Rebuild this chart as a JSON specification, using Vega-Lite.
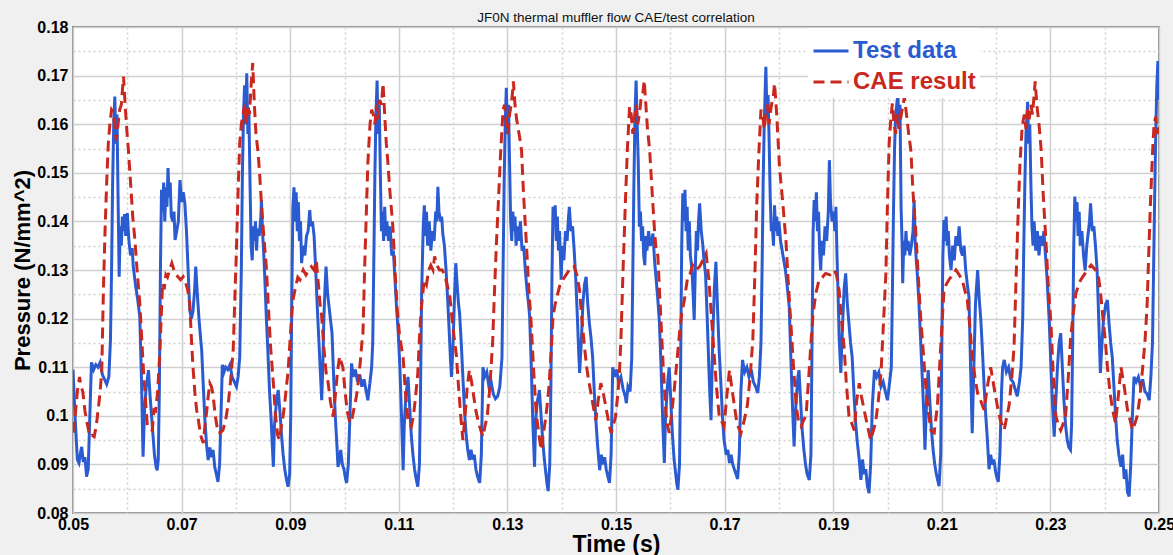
{
"$schema": "https://vega.github.io/schema/vega-lite/v6.json",
"width": 1086,
"height": 486,
"autosize": "none",
"padding": {"left": 73, "top": 27, "right": 14, "bottom": 42},
"background": "#f0f0f0",
"config": {"view": {"fill": "white", "stroke": "#8c8c8c", "strokeWidth": 2}, "font": "Liberation Sans"},
"title": {"text": "JF0N thermal muffler flow CAE/test correlation", "fontSize": 13.5, "fontWeight": "normal", "color": "#111", "offset": -5, "font": "Liberation Sans"},
"data": {"values": [
{"t":0.0500,"p":0.1095,"s":"Test data"},{"t":0.0504,"p":0.0995,"s":"Test data"},{"t":0.0508,"p":0.0910,"s":"Test data"},{"t":0.0511,"p":0.0903,"s":"Test data"},{"t":0.0514,"p":0.0925,"s":"Test data"},{"t":0.0516,"p":0.0936,"s":"Test data"},{"t":0.0519,"p":0.0905,"s":"Test data"},{"t":0.0522,"p":0.0915,"s":"Test data"},{"t":0.0525,"p":0.0875,"s":"Test data"},{"t":0.0528,"p":0.0890,"s":"Test data"},{"t":0.0531,"p":0.1000,"s":"Test data"},{"t":0.0534,"p":0.1110,"s":"Test data"},{"t":0.0538,"p":0.1095,"s":"Test data"},{"t":0.0542,"p":0.1105,"s":"Test data"},{"t":0.0546,"p":0.1100,"s":"Test data"},{"t":0.0550,"p":0.1110,"s":"Test data"},{"t":0.0554,"p":0.1085,"s":"Test data"},{"t":0.0558,"p":0.1075,"s":"Test data"},{"t":0.0562,"p":0.1065,"s":"Test data"},{"t":0.0566,"p":0.1080,"s":"Test data"},{"t":0.0569,"p":0.1156,"s":"Test data"},{"t":0.0571,"p":0.1300,"s":"Test data"},{"t":0.0573,"p":0.1480,"s":"Test data"},{"t":0.0575,"p":0.1600,"s":"Test data"},{"t":0.0577,"p":0.1657,"s":"Test data"},{"t":0.0579,"p":0.1560,"s":"Test data"},{"t":0.0581,"p":0.1620,"s":"Test data"},{"t":0.0583,"p":0.1450,"s":"Test data"},{"t":0.0585,"p":0.1286,"s":"Test data"},{"t":0.0587,"p":0.1390,"s":"Test data"},{"t":0.0589,"p":0.1350,"s":"Test data"},{"t":0.0591,"p":0.1410,"s":"Test data"},{"t":0.0593,"p":0.1380,"s":"Test data"},{"t":0.0595,"p":0.1415,"s":"Test data"},{"t":0.0597,"p":0.1370,"s":"Test data"},{"t":0.0600,"p":0.1417,"s":"Test data"},{"t":0.0603,"p":0.1360,"s":"Test data"},{"t":0.0606,"p":0.1330,"s":"Test data"},{"t":0.0609,"p":0.1345,"s":"Test data"},{"t":0.0611,"p":0.1307,"s":"Test data"},{"t":0.0615,"p":0.1270,"s":"Test data"},{"t":0.0619,"p":0.1240,"s":"Test data"},{"t":0.0623,"p":0.1204,"s":"Test data"},{"t":0.0626,"p":0.1080,"s":"Test data"},{"t":0.0629,"p":0.0916,"s":"Test data"},{"t":0.0632,"p":0.1020,"s":"Test data"},{"t":0.0635,"p":0.1060,"s":"Test data"},{"t":0.0639,"p":0.1094,"s":"Test data"},{"t":0.0642,"p":0.1040,"s":"Test data"},{"t":0.0646,"p":0.0980,"s":"Test data"},{"t":0.0650,"p":0.0920,"s":"Test data"},{"t":0.0653,"p":0.0895,"s":"Test data"},{"t":0.0655,"p":0.0888,"s":"Test data"},{"t":0.0657,"p":0.0910,"s":"Test data"},{"t":0.0659,"p":0.1050,"s":"Test data"},{"t":0.0661,"p":0.1300,"s":"Test data"},{"t":0.0663,"p":0.1465,"s":"Test data"},{"t":0.0665,"p":0.1420,"s":"Test data"},{"t":0.0667,"p":0.1480,"s":"Test data"},{"t":0.0669,"p":0.1400,"s":"Test data"},{"t":0.0671,"p":0.1470,"s":"Test data"},{"t":0.0673,"p":0.1430,"s":"Test data"},{"t":0.0675,"p":0.1510,"s":"Test data"},{"t":0.0677,"p":0.1450,"s":"Test data"},{"t":0.0679,"p":0.1480,"s":"Test data"},{"t":0.0681,"p":0.1410,"s":"Test data"},{"t":0.0684,"p":0.1400,"s":"Test data"},{"t":0.0686,"p":0.1420,"s":"Test data"},{"t":0.0688,"p":0.1362,"s":"Test data"},{"t":0.0691,"p":0.1380,"s":"Test data"},{"t":0.0694,"p":0.1400,"s":"Test data"},{"t":0.0697,"p":0.1485,"s":"Test data"},{"t":0.0700,"p":0.1440,"s":"Test data"},{"t":0.0703,"p":0.1460,"s":"Test data"},{"t":0.0706,"p":0.1437,"s":"Test data"},{"t":0.0709,"p":0.1380,"s":"Test data"},{"t":0.0712,"p":0.1300,"s":"Test data"},{"t":0.0715,"p":0.1218,"s":"Test data"},{"t":0.0718,"p":0.1200,"s":"Test data"},{"t":0.0721,"p":0.1215,"s":"Test data"},{"t":0.0724,"p":0.1260,"s":"Test data"},{"t":0.0726,"p":0.1307,"s":"Test data"},{"t":0.0729,"p":0.1250,"s":"Test data"},{"t":0.0732,"p":0.1200,"s":"Test data"},{"t":0.0735,"p":0.1160,"s":"Test data"},{"t":0.0737,"p":0.1135,"s":"Test data"},{"t":0.0740,"p":0.1060,"s":"Test data"},{"t":0.0743,"p":0.0990,"s":"Test data"},{"t":0.0746,"p":0.0940,"s":"Test data"},{"t":0.0749,"p":0.0909,"s":"Test data"},{"t":0.0752,"p":0.0935,"s":"Test data"},{"t":0.0755,"p":0.0915,"s":"Test data"},{"t":0.0758,"p":0.0930,"s":"Test data"},{"t":0.0761,"p":0.0895,"s":"Test data"},{"t":0.0764,"p":0.0880,"s":"Test data"},{"t":0.0767,"p":0.0864,"s":"Test data"},{"t":0.0770,"p":0.0900,"s":"Test data"},{"t":0.0773,"p":0.1020,"s":"Test data"},{"t":0.0775,"p":0.1105,"s":"Test data"},{"t":0.0778,"p":0.1090,"s":"Test data"},{"t":0.0781,"p":0.1100,"s":"Test data"},{"t":0.0785,"p":0.1095,"s":"Test data"},{"t":0.0789,"p":0.1105,"s":"Test data"},{"t":0.0793,"p":0.1080,"s":"Test data"},{"t":0.0797,"p":0.1070,"s":"Test data"},{"t":0.0801,"p":0.1060,"s":"Test data"},{"t":0.0804,"p":0.1080,"s":"Test data"},{"t":0.0807,"p":0.1120,"s":"Test data"},
{"t":0.0810,"p":0.1300,"s":"Test data"},{"t":0.0812,"p":0.1500,"s":"Test data"},{"t":0.0814,"p":0.1620,"s":"Test data"},{"t":0.0816,"p":0.1680,"s":"Test data"},{"t":0.0818,"p":0.1600,"s":"Test data"},{"t":0.0820,"p":0.1705,"s":"Test data"},{"t":0.0822,"p":0.1580,"s":"Test data"},{"t":0.0824,"p":0.1620,"s":"Test data"},{"t":0.0826,"p":0.1480,"s":"Test data"},{"t":0.0828,"p":0.1350,"s":"Test data"},{"t":0.0830,"p":0.1320,"s":"Test data"},{"t":0.0832,"p":0.1390,"s":"Test data"},{"t":0.0834,"p":0.1360,"s":"Test data"},{"t":0.0836,"p":0.1400,"s":"Test data"},{"t":0.0838,"p":0.1340,"s":"Test data"},{"t":0.0840,"p":0.1385,"s":"Test data"},{"t":0.0843,"p":0.1370,"s":"Test data"},{"t":0.0846,"p":0.1410,"s":"Test data"},{"t":0.0847,"p":0.1444,"s":"Test data"},{"t":0.0849,"p":0.1380,"s":"Test data"},{"t":0.0851,"p":0.1340,"s":"Test data"},{"t":0.0853,"p":0.1290,"s":"Test data"},{"t":0.0856,"p":0.1204,"s":"Test data"},{"t":0.0859,"p":0.1130,"s":"Test data"},{"t":0.0862,"p":0.1050,"s":"Test data"},{"t":0.0865,"p":0.0990,"s":"Test data"},{"t":0.0867,"p":0.0940,"s":"Test data"},{"t":0.0869,"p":0.0895,"s":"Test data"},{"t":0.0871,"p":0.0980,"s":"Test data"},{"t":0.0874,"p":0.1020,"s":"Test data"},{"t":0.0876,"p":0.1040,"s":"Test data"},{"t":0.0878,"p":0.1053,"s":"Test data"},{"t":0.0881,"p":0.1010,"s":"Test data"},{"t":0.0884,"p":0.0960,"s":"Test data"},{"t":0.0887,"p":0.0920,"s":"Test data"},{"t":0.0890,"p":0.0890,"s":"Test data"},{"t":0.0893,"p":0.0870,"s":"Test data"},{"t":0.0896,"p":0.0854,"s":"Test data"},{"t":0.0899,"p":0.0880,"s":"Test data"},{"t":0.0901,"p":0.1000,"s":"Test data"},{"t":0.0903,"p":0.1250,"s":"Test data"},{"t":0.0905,"p":0.1430,"s":"Test data"},{"t":0.0907,"p":0.1470,"s":"Test data"},{"t":0.0909,"p":0.1400,"s":"Test data"},{"t":0.0911,"p":0.1460,"s":"Test data"},{"t":0.0913,"p":0.1380,"s":"Test data"},{"t":0.0915,"p":0.1440,"s":"Test data"},{"t":0.0917,"p":0.1360,"s":"Test data"},{"t":0.0919,"p":0.1400,"s":"Test data"},{"t":0.0921,"p":0.1314,"s":"Test data"},{"t":0.0924,"p":0.1350,"s":"Test data"},{"t":0.0927,"p":0.1330,"s":"Test data"},{"t":0.0930,"p":0.1370,"s":"Test data"},{"t":0.0933,"p":0.1380,"s":"Test data"},{"t":0.0936,"p":0.1423,"s":"Test data"},{"t":0.0938,"p":0.1390,"s":"Test data"},{"t":0.0941,"p":0.1400,"s":"Test data"},{"t":0.0944,"p":0.1370,"s":"Test data"},{"t":0.0947,"p":0.1300,"s":"Test data"},{"t":0.0950,"p":0.1220,"s":"Test data"},{"t":0.0953,"p":0.1150,"s":"Test data"},{"t":0.0956,"p":0.1080,"s":"Test data"},{"t":0.0958,"p":0.1032,"s":"Test data"},{"t":0.0960,"p":0.1100,"s":"Test data"},{"t":0.0962,"p":0.1200,"s":"Test data"},{"t":0.0964,"p":0.1260,"s":"Test data"},{"t":0.0966,"p":0.1307,"s":"Test data"},{"t":0.0969,"p":0.1250,"s":"Test data"},{"t":0.0972,"p":0.1220,"s":"Test data"},{"t":0.0975,"p":0.1190,"s":"Test data"},{"t":0.0977,"p":0.1170,"s":"Test data"},{"t":0.0980,"p":0.1080,"s":"Test data"},{"t":0.0983,"p":0.1000,"s":"Test data"},{"t":0.0986,"p":0.0940,"s":"Test data"},{"t":0.0988,"p":0.0895,"s":"Test data"},{"t":0.0991,"p":0.0910,"s":"Test data"},{"t":0.0993,"p":0.0930,"s":"Test data"},{"t":0.0996,"p":0.0900,"s":"Test data"},{"t":0.0999,"p":0.0890,"s":"Test data"},{"t":0.1002,"p":0.0870,"s":"Test data"},{"t":0.1004,"p":0.0862,"s":"Test data"},{"t":0.1007,"p":0.0900,"s":"Test data"},{"t":0.1010,"p":0.1000,"s":"Test data"},{"t":0.1013,"p":0.1108,"s":"Test data"},{"t":0.1016,"p":0.1080,"s":"Test data"},{"t":0.1020,"p":0.1095,"s":"Test data"},{"t":0.1024,"p":0.1070,"s":"Test data"},{"t":0.1028,"p":0.1085,"s":"Test data"},{"t":0.1032,"p":0.1060,"s":"Test data"},{"t":0.1036,"p":0.1075,"s":"Test data"},{"t":0.1040,"p":0.1050,"s":"Test data"},{"t":0.1043,"p":0.1032,"s":"Test data"},{"t":0.1047,"p":0.1070,"s":"Test data"},{"t":0.1050,"p":0.1100,"s":"Test data"},
{"t":0.1052,"p":0.1150,"s":"Test data"},{"t":0.1054,"p":0.1320,"s":"Test data"},{"t":0.1056,"p":0.1500,"s":"Test data"},{"t":0.1058,"p":0.1620,"s":"Test data"},{"t":0.1060,"p":0.1690,"s":"Test data"},{"t":0.1062,"p":0.1580,"s":"Test data"},{"t":0.1064,"p":0.1640,"s":"Test data"},{"t":0.1066,"p":0.1500,"s":"Test data"},{"t":0.1068,"p":0.1380,"s":"Test data"},{"t":0.1070,"p":0.1420,"s":"Test data"},{"t":0.1072,"p":0.1360,"s":"Test data"},{"t":0.1074,"p":0.1430,"s":"Test data"},{"t":0.1076,"p":0.1370,"s":"Test data"},{"t":0.1078,"p":0.1400,"s":"Test data"},{"t":0.1081,"p":0.1360,"s":"Test data"},{"t":0.1084,"p":0.1390,"s":"Test data"},{"t":0.1087,"p":0.1330,"s":"Test data"},{"t":0.1090,"p":0.1340,"s":"Test data"},{"t":0.1093,"p":0.1280,"s":"Test data"},{"t":0.1096,"p":0.1220,"s":"Test data"},{"t":0.1099,"p":0.1170,"s":"Test data"},{"t":0.1102,"p":0.1100,"s":"Test data"},{"t":0.1105,"p":0.1000,"s":"Test data"},{"t":0.1108,"p":0.0888,"s":"Test data"},{"t":0.1110,"p":0.0980,"s":"Test data"},{"t":0.1113,"p":0.1040,"s":"Test data"},{"t":0.1115,"p":0.1060,"s":"Test data"},{"t":0.1117,"p":0.1080,"s":"Test data"},{"t":0.1120,"p":0.1020,"s":"Test data"},{"t":0.1123,"p":0.0960,"s":"Test data"},{"t":0.1126,"p":0.0920,"s":"Test data"},{"t":0.1129,"p":0.0890,"s":"Test data"},{"t":0.1132,"p":0.0870,"s":"Test data"},{"t":0.1135,"p":0.0854,"s":"Test data"},{"t":0.1138,"p":0.0900,"s":"Test data"},{"t":0.1140,"p":0.1050,"s":"Test data"},{"t":0.1142,"p":0.1250,"s":"Test data"},{"t":0.1145,"p":0.1390,"s":"Test data"},{"t":0.1147,"p":0.1433,"s":"Test data"},{"t":0.1149,"p":0.1370,"s":"Test data"},{"t":0.1151,"p":0.1420,"s":"Test data"},{"t":0.1153,"p":0.1350,"s":"Test data"},{"t":0.1156,"p":0.1400,"s":"Test data"},{"t":0.1159,"p":0.1340,"s":"Test data"},{"t":0.1162,"p":0.1380,"s":"Test data"},{"t":0.1165,"p":0.1360,"s":"Test data"},{"t":0.1168,"p":0.1420,"s":"Test data"},{"t":0.1170,"p":0.1400,"s":"Test data"},{"t":0.1172,"p":0.1471,"s":"Test data"},{"t":0.1174,"p":0.1420,"s":"Test data"},{"t":0.1177,"p":0.1400,"s":"Test data"},{"t":0.1179,"p":0.1410,"s":"Test data"},{"t":0.1181,"p":0.1375,"s":"Test data"},{"t":0.1184,"p":0.1350,"s":"Test data"},{"t":0.1187,"p":0.1300,"s":"Test data"},{"t":0.1190,"p":0.1240,"s":"Test data"},{"t":0.1193,"p":0.1170,"s":"Test data"},{"t":0.1195,"p":0.1120,"s":"Test data"},{"t":0.1197,"p":0.1080,"s":"Test data"},{"t":0.1200,"p":0.1150,"s":"Test data"},{"t":0.1203,"p":0.1260,"s":"Test data"},{"t":0.1205,"p":0.1314,"s":"Test data"},{"t":0.1208,"p":0.1260,"s":"Test data"},{"t":0.1210,"p":0.1230,"s":"Test data"},{"t":0.1212,"p":0.1210,"s":"Test data"},{"t":0.1215,"p":0.1150,"s":"Test data"},{"t":0.1218,"p":0.1080,"s":"Test data"},{"t":0.1221,"p":0.1010,"s":"Test data"},{"t":0.1224,"p":0.0960,"s":"Test data"},{"t":0.1227,"p":0.0930,"s":"Test data"},{"t":0.1230,"p":0.0909,"s":"Test data"},{"t":0.1233,"p":0.0930,"s":"Test data"},{"t":0.1236,"p":0.0910,"s":"Test data"},{"t":0.1239,"p":0.0920,"s":"Test data"},{"t":0.1242,"p":0.0890,"s":"Test data"},{"t":0.1245,"p":0.0875,"s":"Test data"},{"t":0.1249,"p":0.0862,"s":"Test data"},{"t":0.1252,"p":0.0920,"s":"Test data"},{"t":0.1255,"p":0.1100,"s":"Test data"},{"t":0.1258,"p":0.1080,"s":"Test data"},{"t":0.1262,"p":0.1090,"s":"Test data"},{"t":0.1266,"p":0.1060,"s":"Test data"},{"t":0.1270,"p":0.1070,"s":"Test data"},{"t":0.1274,"p":0.1045,"s":"Test data"},{"t":0.1278,"p":0.1035,"s":"Test data"},{"t":0.1282,"p":0.1040,"s":"Test data"},{"t":0.1286,"p":0.1060,"s":"Test data"},{"t":0.1290,"p":0.1120,"s":"Test data"},{"t":0.1292,"p":0.1300,"s":"Test data"},{"t":0.1294,"p":0.1480,"s":"Test data"},{"t":0.1296,"p":0.1600,"s":"Test data"},{"t":0.1298,"p":0.1675,"s":"Test data"},
{"t":0.1300,"p":0.1580,"s":"Test data"},{"t":0.1302,"p":0.1640,"s":"Test data"},{"t":0.1304,"p":0.1520,"s":"Test data"},{"t":0.1306,"p":0.1400,"s":"Test data"},{"t":0.1308,"p":0.1360,"s":"Test data"},{"t":0.1310,"p":0.1420,"s":"Test data"},{"t":0.1312,"p":0.1380,"s":"Test data"},{"t":0.1314,"p":0.1410,"s":"Test data"},{"t":0.1316,"p":0.1350,"s":"Test data"},{"t":0.1318,"p":0.1390,"s":"Test data"},{"t":0.1321,"p":0.1360,"s":"Test data"},{"t":0.1324,"p":0.1400,"s":"Test data"},{"t":0.1327,"p":0.1340,"s":"Test data"},{"t":0.1330,"p":0.1350,"s":"Test data"},{"t":0.1333,"p":0.1300,"s":"Test data"},{"t":0.1336,"p":0.1260,"s":"Test data"},{"t":0.1339,"p":0.1230,"s":"Test data"},{"t":0.1341,"p":0.1204,"s":"Test data"},{"t":0.1344,"p":0.1100,"s":"Test data"},{"t":0.1347,"p":0.0980,"s":"Test data"},{"t":0.1350,"p":0.0895,"s":"Test data"},{"t":0.1352,"p":0.0990,"s":"Test data"},{"t":0.1355,"p":0.1030,"s":"Test data"},{"t":0.1357,"p":0.1040,"s":"Test data"},{"t":0.1359,"p":0.1053,"s":"Test data"},{"t":0.1362,"p":0.1000,"s":"Test data"},{"t":0.1365,"p":0.0950,"s":"Test data"},{"t":0.1368,"p":0.0910,"s":"Test data"},{"t":0.1371,"p":0.0880,"s":"Test data"},{"t":0.1373,"p":0.0860,"s":"Test data"},{"t":0.1375,"p":0.0845,"s":"Test data"},{"t":0.1378,"p":0.0900,"s":"Test data"},{"t":0.1380,"p":0.1050,"s":"Test data"},{"t":0.1382,"p":0.1280,"s":"Test data"},{"t":0.1384,"p":0.1430,"s":"Test data"},{"t":0.1386,"p":0.1400,"s":"Test data"},{"t":0.1388,"p":0.1433,"s":"Test data"},{"t":0.1390,"p":0.1360,"s":"Test data"},{"t":0.1392,"p":0.1410,"s":"Test data"},{"t":0.1394,"p":0.1340,"s":"Test data"},{"t":0.1396,"p":0.1380,"s":"Test data"},{"t":0.1399,"p":0.1280,"s":"Test data"},{"t":0.1401,"p":0.1350,"s":"Test data"},{"t":0.1404,"p":0.1320,"s":"Test data"},{"t":0.1407,"p":0.1380,"s":"Test data"},{"t":0.1410,"p":0.1360,"s":"Test data"},{"t":0.1412,"p":0.1400,"s":"Test data"},{"t":0.1414,"p":0.1430,"s":"Test data"},{"t":0.1417,"p":0.1380,"s":"Test data"},{"t":0.1420,"p":0.1390,"s":"Test data"},{"t":0.1423,"p":0.1340,"s":"Test data"},{"t":0.1426,"p":0.1280,"s":"Test data"},{"t":0.1429,"p":0.1200,"s":"Test data"},{"t":0.1431,"p":0.1140,"s":"Test data"},{"t":0.1433,"p":0.1088,"s":"Test data"},{"t":0.1436,"p":0.1150,"s":"Test data"},{"t":0.1439,"p":0.1230,"s":"Test data"},{"t":0.1442,"p":0.1270,"s":"Test data"},{"t":0.1445,"p":0.1286,"s":"Test data"},{"t":0.1448,"p":0.1230,"s":"Test data"},{"t":0.1451,"p":0.1190,"s":"Test data"},{"t":0.1454,"p":0.1160,"s":"Test data"},{"t":0.1457,"p":0.1120,"s":"Test data"},{"t":0.1460,"p":0.1050,"s":"Test data"},{"t":0.1463,"p":0.0990,"s":"Test data"},{"t":0.1466,"p":0.0940,"s":"Test data"},{"t":0.1470,"p":0.0888,"s":"Test data"},{"t":0.1473,"p":0.0920,"s":"Test data"},{"t":0.1476,"p":0.0900,"s":"Test data"},{"t":0.1479,"p":0.0915,"s":"Test data"},{"t":0.1482,"p":0.0890,"s":"Test data"},{"t":0.1485,"p":0.0875,"s":"Test data"},{"t":0.1488,"p":0.0862,"s":"Test data"},{"t":0.1491,"p":0.0920,"s":"Test data"},{"t":0.1494,"p":0.1100,"s":"Test data"},{"t":0.1497,"p":0.1080,"s":"Test data"},{"t":0.1501,"p":0.1095,"s":"Test data"},{"t":0.1505,"p":0.1070,"s":"Test data"},{"t":0.1509,"p":0.1080,"s":"Test data"},{"t":0.1513,"p":0.1055,"s":"Test data"},{"t":0.1517,"p":0.1040,"s":"Test data"},{"t":0.1519,"p":0.1026,"s":"Test data"},{"t":0.1522,"p":0.1060,"s":"Test data"},{"t":0.1526,"p":0.1050,"s":"Test data"},{"t":0.1529,"p":0.1120,"s":"Test data"},{"t":0.1531,"p":0.1300,"s":"Test data"},{"t":0.1533,"p":0.1480,"s":"Test data"},{"t":0.1535,"p":0.1620,"s":"Test data"},{"t":0.1537,"p":0.1690,"s":"Test data"},
{"t":0.1539,"p":0.1600,"s":"Test data"},{"t":0.1541,"p":0.1520,"s":"Test data"},{"t":0.1543,"p":0.1389,"s":"Test data"},{"t":0.1545,"p":0.1420,"s":"Test data"},{"t":0.1547,"p":0.1360,"s":"Test data"},{"t":0.1549,"p":0.1390,"s":"Test data"},{"t":0.1551,"p":0.1330,"s":"Test data"},{"t":0.1553,"p":0.1310,"s":"Test data"},{"t":0.1555,"p":0.1370,"s":"Test data"},{"t":0.1557,"p":0.1340,"s":"Test data"},{"t":0.1560,"p":0.1380,"s":"Test data"},{"t":0.1563,"p":0.1350,"s":"Test data"},{"t":0.1566,"p":0.1360,"s":"Test data"},{"t":0.1568,"p":0.1375,"s":"Test data"},{"t":0.1571,"p":0.1320,"s":"Test data"},{"t":0.1574,"p":0.1280,"s":"Test data"},{"t":0.1577,"p":0.1240,"s":"Test data"},{"t":0.1580,"p":0.1191,"s":"Test data"},{"t":0.1583,"p":0.1100,"s":"Test data"},{"t":0.1586,"p":0.0990,"s":"Test data"},{"t":0.1589,"p":0.0903,"s":"Test data"},{"t":0.1591,"p":0.0990,"s":"Test data"},{"t":0.1594,"p":0.1050,"s":"Test data"},{"t":0.1596,"p":0.1080,"s":"Test data"},{"t":0.1598,"p":0.1100,"s":"Test data"},{"t":0.1601,"p":0.1030,"s":"Test data"},{"t":0.1604,"p":0.0960,"s":"Test data"},{"t":0.1607,"p":0.0910,"s":"Test data"},{"t":0.1610,"p":0.0880,"s":"Test data"},{"t":0.1612,"p":0.0860,"s":"Test data"},{"t":0.1614,"p":0.0848,"s":"Test data"},{"t":0.1617,"p":0.0900,"s":"Test data"},{"t":0.1619,"p":0.1100,"s":"Test data"},{"t":0.1621,"p":0.1350,"s":"Test data"},{"t":0.1623,"p":0.1458,"s":"Test data"},{"t":0.1625,"p":0.1400,"s":"Test data"},{"t":0.1627,"p":0.1465,"s":"Test data"},{"t":0.1629,"p":0.1380,"s":"Test data"},{"t":0.1631,"p":0.1430,"s":"Test data"},{"t":0.1633,"p":0.1340,"s":"Test data"},{"t":0.1635,"p":0.1400,"s":"Test data"},{"t":0.1637,"p":0.1330,"s":"Test data"},{"t":0.1640,"p":0.1300,"s":"Test data"},{"t":0.1642,"p":0.1250,"s":"Test data"},{"t":0.1644,"p":0.1197,"s":"Test data"},{"t":0.1646,"p":0.1300,"s":"Test data"},{"t":0.1648,"p":0.1380,"s":"Test data"},{"t":0.1650,"p":0.1340,"s":"Test data"},{"t":0.1652,"p":0.1400,"s":"Test data"},{"t":0.1654,"p":0.1437,"s":"Test data"},{"t":0.1657,"p":0.1380,"s":"Test data"},{"t":0.1660,"p":0.1350,"s":"Test data"},{"t":0.1662,"p":0.1320,"s":"Test data"},{"t":0.1665,"p":0.1290,"s":"Test data"},{"t":0.1668,"p":0.1200,"s":"Test data"},{"t":0.1671,"p":0.1100,"s":"Test data"},{"t":0.1673,"p":0.1040,"s":"Test data"},{"t":0.1675,"p":0.0991,"s":"Test data"},{"t":0.1678,"p":0.1150,"s":"Test data"},{"t":0.1681,"p":0.1260,"s":"Test data"},{"t":0.1684,"p":0.1317,"s":"Test data"},{"t":0.1687,"p":0.1220,"s":"Test data"},{"t":0.1690,"p":0.1135,"s":"Test data"},{"t":0.1693,"p":0.1070,"s":"Test data"},{"t":0.1696,"p":0.1000,"s":"Test data"},{"t":0.1699,"p":0.0950,"s":"Test data"},{"t":0.1703,"p":0.0920,"s":"Test data"},{"t":0.1706,"p":0.0930,"s":"Test data"},{"t":0.1709,"p":0.0903,"s":"Test data"},{"t":0.1712,"p":0.0920,"s":"Test data"},{"t":0.1715,"p":0.0900,"s":"Test data"},{"t":0.1718,"p":0.0890,"s":"Test data"},{"t":0.1721,"p":0.0880,"s":"Test data"},{"t":0.1724,"p":0.0870,"s":"Test data"},{"t":0.1727,"p":0.0920,"s":"Test data"},{"t":0.1730,"p":0.1050,"s":"Test data"},{"t":0.1733,"p":0.1115,"s":"Test data"},{"t":0.1737,"p":0.1090,"s":"Test data"},{"t":0.1741,"p":0.1100,"s":"Test data"},{"t":0.1745,"p":0.1080,"s":"Test data"},{"t":0.1749,"p":0.1095,"s":"Test data"},{"t":0.1753,"p":0.1070,"s":"Test data"},{"t":0.1757,"p":0.1060,"s":"Test data"},{"t":0.1761,"p":0.1047,"s":"Test data"},{"t":0.1764,"p":0.1080,"s":"Test data"},{"t":0.1767,"p":0.1150,"s":"Test data"},{"t":0.1769,"p":0.1300,"s":"Test data"},{"t":0.1771,"p":0.1480,"s":"Test data"},{"t":0.1773,"p":0.1600,"s":"Test data"},{"t":0.1775,"p":0.1680,"s":"Test data"},{"t":0.1776,"p":0.1718,"s":"Test data"},
{"t":0.1778,"p":0.1620,"s":"Test data"},{"t":0.1780,"p":0.1660,"s":"Test data"},{"t":0.1782,"p":0.1567,"s":"Test data"},{"t":0.1784,"p":0.1450,"s":"Test data"},{"t":0.1786,"p":0.1380,"s":"Test data"},{"t":0.1788,"p":0.1390,"s":"Test data"},{"t":0.1790,"p":0.1350,"s":"Test data"},{"t":0.1792,"p":0.1433,"s":"Test data"},{"t":0.1794,"p":0.1380,"s":"Test data"},{"t":0.1796,"p":0.1410,"s":"Test data"},{"t":0.1798,"p":0.1370,"s":"Test data"},{"t":0.1800,"p":0.1400,"s":"Test data"},{"t":0.1803,"p":0.1360,"s":"Test data"},{"t":0.1806,"p":0.1340,"s":"Test data"},{"t":0.1809,"p":0.1320,"s":"Test data"},{"t":0.1812,"p":0.1300,"s":"Test data"},{"t":0.1815,"p":0.1270,"s":"Test data"},{"t":0.1819,"p":0.1225,"s":"Test data"},{"t":0.1822,"p":0.1120,"s":"Test data"},{"t":0.1825,"p":0.1020,"s":"Test data"},{"t":0.1828,"p":0.0937,"s":"Test data"},{"t":0.1830,"p":0.1000,"s":"Test data"},{"t":0.1833,"p":0.1050,"s":"Test data"},{"t":0.1835,"p":0.1080,"s":"Test data"},{"t":0.1837,"p":0.1094,"s":"Test data"},{"t":0.1840,"p":0.1030,"s":"Test data"},{"t":0.1843,"p":0.0970,"s":"Test data"},{"t":0.1846,"p":0.0930,"s":"Test data"},{"t":0.1849,"p":0.0900,"s":"Test data"},{"t":0.1852,"p":0.0880,"s":"Test data"},{"t":0.1856,"p":0.0868,"s":"Test data"},{"t":0.1859,"p":0.0920,"s":"Test data"},{"t":0.1861,"p":0.1150,"s":"Test data"},{"t":0.1863,"p":0.1380,"s":"Test data"},{"t":0.1865,"p":0.1444,"s":"Test data"},{"t":0.1867,"p":0.1400,"s":"Test data"},{"t":0.1869,"p":0.1460,"s":"Test data"},{"t":0.1871,"p":0.1380,"s":"Test data"},{"t":0.1873,"p":0.1420,"s":"Test data"},{"t":0.1875,"p":0.1340,"s":"Test data"},{"t":0.1877,"p":0.1299,"s":"Test data"},{"t":0.1879,"p":0.1360,"s":"Test data"},{"t":0.1882,"p":0.1330,"s":"Test data"},{"t":0.1885,"p":0.1390,"s":"Test data"},{"t":0.1888,"p":0.1360,"s":"Test data"},{"t":0.1891,"p":0.1420,"s":"Test data"},{"t":0.1893,"p":0.1526,"s":"Test data"},{"t":0.1895,"p":0.1440,"s":"Test data"},{"t":0.1898,"p":0.1400,"s":"Test data"},{"t":0.1901,"p":0.1420,"s":"Test data"},{"t":0.1903,"p":0.1380,"s":"Test data"},{"t":0.1905,"p":0.1430,"s":"Test data"},{"t":0.1907,"p":0.1330,"s":"Test data"},{"t":0.1909,"p":0.1250,"s":"Test data"},{"t":0.1911,"p":0.1160,"s":"Test data"},{"t":0.1914,"p":0.1088,"s":"Test data"},{"t":0.1917,"p":0.1180,"s":"Test data"},{"t":0.1920,"p":0.1260,"s":"Test data"},{"t":0.1923,"p":0.1293,"s":"Test data"},{"t":0.1926,"p":0.1230,"s":"Test data"},{"t":0.1929,"p":0.1190,"s":"Test data"},{"t":0.1932,"p":0.1150,"s":"Test data"},{"t":0.1935,"p":0.1120,"s":"Test data"},{"t":0.1938,"p":0.1050,"s":"Test data"},{"t":0.1941,"p":0.0990,"s":"Test data"},{"t":0.1944,"p":0.0950,"s":"Test data"},{"t":0.1948,"p":0.0909,"s":"Test data"},{"t":0.1951,"p":0.0868,"s":"Test data"},{"t":0.1954,"p":0.0910,"s":"Test data"},{"t":0.1957,"p":0.0880,"s":"Test data"},{"t":0.1960,"p":0.0890,"s":"Test data"},{"t":0.1963,"p":0.0855,"s":"Test data"},{"t":0.1966,"p":0.0841,"s":"Test data"},{"t":0.1969,"p":0.0900,"s":"Test data"},{"t":0.1972,"p":0.1020,"s":"Test data"},{"t":0.1976,"p":0.1094,"s":"Test data"},{"t":0.1980,"p":0.1080,"s":"Test data"},{"t":0.1984,"p":0.1090,"s":"Test data"},{"t":0.1988,"p":0.1060,"s":"Test data"},{"t":0.1992,"p":0.1070,"s":"Test data"},{"t":0.1996,"p":0.1050,"s":"Test data"},{"t":0.2000,"p":0.1032,"s":"Test data"},{"t":0.2004,"p":0.1070,"s":"Test data"},{"t":0.2007,"p":0.1100,"s":"Test data"},{"t":0.2009,"p":0.1250,"s":"Test data"},{"t":0.2011,"p":0.1420,"s":"Test data"},{"t":0.2013,"p":0.1550,"s":"Test data"},{"t":0.2015,"p":0.1620,"s":"Test data"},{"t":0.2017,"p":0.1640,"s":"Test data"},{"t":0.2019,"p":0.1660,"s":"Test data"},
{"t":0.2021,"p":0.1600,"s":"Test data"},{"t":0.2023,"p":0.1640,"s":"Test data"},{"t":0.2025,"p":0.1430,"s":"Test data"},{"t":0.2027,"p":0.1350,"s":"Test data"},{"t":0.2028,"p":0.1273,"s":"Test data"},{"t":0.2030,"p":0.1360,"s":"Test data"},{"t":0.2032,"p":0.1330,"s":"Test data"},{"t":0.2034,"p":0.1380,"s":"Test data"},{"t":0.2036,"p":0.1340,"s":"Test data"},{"t":0.2038,"p":0.1360,"s":"Test data"},{"t":0.2041,"p":0.1330,"s":"Test data"},{"t":0.2044,"p":0.1350,"s":"Test data"},{"t":0.2047,"p":0.1380,"s":"Test data"},{"t":0.2049,"p":0.1444,"s":"Test data"},{"t":0.2051,"p":0.1360,"s":"Test data"},{"t":0.2053,"p":0.1320,"s":"Test data"},{"t":0.2055,"p":0.1290,"s":"Test data"},{"t":0.2058,"p":0.1230,"s":"Test data"},{"t":0.2061,"p":0.1156,"s":"Test data"},{"t":0.2064,"p":0.1080,"s":"Test data"},{"t":0.2067,"p":0.1000,"s":"Test data"},{"t":0.2069,"p":0.0930,"s":"Test data"},{"t":0.2071,"p":0.1000,"s":"Test data"},{"t":0.2073,"p":0.1060,"s":"Test data"},{"t":0.2075,"p":0.1094,"s":"Test data"},{"t":0.2078,"p":0.1030,"s":"Test data"},{"t":0.2081,"p":0.0970,"s":"Test data"},{"t":0.2084,"p":0.0930,"s":"Test data"},{"t":0.2087,"p":0.0900,"s":"Test data"},{"t":0.2090,"p":0.0880,"s":"Test data"},{"t":0.2093,"p":0.0865,"s":"Test data"},{"t":0.2095,"p":0.0855,"s":"Test data"},{"t":0.2098,"p":0.0920,"s":"Test data"},{"t":0.2100,"p":0.1150,"s":"Test data"},{"t":0.2102,"p":0.1330,"s":"Test data"},{"t":0.2104,"p":0.1403,"s":"Test data"},{"t":0.2106,"p":0.1360,"s":"Test data"},{"t":0.2108,"p":0.1410,"s":"Test data"},{"t":0.2110,"p":0.1350,"s":"Test data"},{"t":0.2112,"p":0.1380,"s":"Test data"},{"t":0.2114,"p":0.1330,"s":"Test data"},{"t":0.2117,"p":0.1300,"s":"Test data"},{"t":0.2120,"p":0.1350,"s":"Test data"},{"t":0.2123,"p":0.1320,"s":"Test data"},{"t":0.2126,"p":0.1370,"s":"Test data"},{"t":0.2129,"p":0.1350,"s":"Test data"},{"t":0.2132,"p":0.1390,"s":"Test data"},{"t":0.2135,"p":0.1340,"s":"Test data"},{"t":0.2138,"p":0.1330,"s":"Test data"},{"t":0.2141,"p":0.1350,"s":"Test data"},{"t":0.2144,"p":0.1300,"s":"Test data"},{"t":0.2147,"p":0.1270,"s":"Test data"},{"t":0.2150,"p":0.1245,"s":"Test data"},{"t":0.2153,"p":0.1100,"s":"Test data"},{"t":0.2156,"p":0.0964,"s":"Test data"},{"t":0.2159,"p":0.1100,"s":"Test data"},{"t":0.2162,"p":0.1230,"s":"Test data"},{"t":0.2166,"p":0.1300,"s":"Test data"},{"t":0.2169,"p":0.1240,"s":"Test data"},{"t":0.2172,"p":0.1195,"s":"Test data"},{"t":0.2175,"p":0.1130,"s":"Test data"},{"t":0.2178,"p":0.1060,"s":"Test data"},{"t":0.2181,"p":0.1000,"s":"Test data"},{"t":0.2184,"p":0.0950,"s":"Test data"},{"t":0.2187,"p":0.0890,"s":"Test data"},{"t":0.2190,"p":0.0920,"s":"Test data"},{"t":0.2193,"p":0.0900,"s":"Test data"},{"t":0.2196,"p":0.0910,"s":"Test data"},{"t":0.2199,"p":0.0885,"s":"Test data"},{"t":0.2201,"p":0.0875,"s":"Test data"},{"t":0.2204,"p":0.0864,"s":"Test data"},{"t":0.2207,"p":0.0920,"s":"Test data"},{"t":0.2210,"p":0.1050,"s":"Test data"},{"t":0.2212,"p":0.1100,"s":"Test data"},{"t":0.2215,"p":0.1115,"s":"Test data"},{"t":0.2219,"p":0.1090,"s":"Test data"},{"t":0.2223,"p":0.1100,"s":"Test data"},{"t":0.2227,"p":0.1075,"s":"Test data"},{"t":0.2231,"p":0.1070,"s":"Test data"},{"t":0.2235,"p":0.1055,"s":"Test data"},{"t":0.2239,"p":0.1040,"s":"Test data"},{"t":0.2243,"p":0.1070,"s":"Test data"},{"t":0.2246,"p":0.1100,"s":"Test data"},{"t":0.2249,"p":0.1200,"s":"Test data"},{"t":0.2251,"p":0.1350,"s":"Test data"},{"t":0.2253,"p":0.1480,"s":"Test data"},{"t":0.2255,"p":0.1580,"s":"Test data"},{"t":0.2257,"p":0.1620,"s":"Test data"},{"t":0.2258,"p":0.1646,"s":"Test data"},
{"t":0.2260,"p":0.1560,"s":"Test data"},{"t":0.2262,"p":0.1600,"s":"Test data"},{"t":0.2264,"p":0.1480,"s":"Test data"},{"t":0.2266,"p":0.1390,"s":"Test data"},{"t":0.2268,"p":0.1350,"s":"Test data"},{"t":0.2270,"p":0.1400,"s":"Test data"},{"t":0.2273,"p":0.1340,"s":"Test data"},{"t":0.2276,"p":0.1380,"s":"Test data"},{"t":0.2279,"p":0.1330,"s":"Test data"},{"t":0.2282,"p":0.1370,"s":"Test data"},{"t":0.2285,"p":0.1350,"s":"Test data"},{"t":0.2288,"p":0.1380,"s":"Test data"},{"t":0.2291,"p":0.1330,"s":"Test data"},{"t":0.2294,"p":0.1280,"s":"Test data"},{"t":0.2298,"p":0.1191,"s":"Test data"},{"t":0.2301,"p":0.1100,"s":"Test data"},{"t":0.2304,"p":0.1020,"s":"Test data"},{"t":0.2307,"p":0.0957,"s":"Test data"},{"t":0.2310,"p":0.1030,"s":"Test data"},{"t":0.2313,"p":0.1100,"s":"Test data"},{"t":0.2316,"p":0.1150,"s":"Test data"},{"t":0.2319,"p":0.1170,"s":"Test data"},{"t":0.2322,"p":0.1100,"s":"Test data"},{"t":0.2325,"p":0.1030,"s":"Test data"},{"t":0.2328,"p":0.0980,"s":"Test data"},{"t":0.2331,"p":0.0950,"s":"Test data"},{"t":0.2334,"p":0.0935,"s":"Test data"},{"t":0.2337,"p":0.0930,"s":"Test data"},{"t":0.2339,"p":0.0980,"s":"Test data"},{"t":0.2341,"p":0.1150,"s":"Test data"},{"t":0.2343,"p":0.1350,"s":"Test data"},{"t":0.2345,"p":0.1451,"s":"Test data"},{"t":0.2347,"p":0.1400,"s":"Test data"},{"t":0.2349,"p":0.1440,"s":"Test data"},{"t":0.2351,"p":0.1370,"s":"Test data"},{"t":0.2353,"p":0.1420,"s":"Test data"},{"t":0.2355,"p":0.1350,"s":"Test data"},{"t":0.2358,"p":0.1380,"s":"Test data"},{"t":0.2361,"p":0.1330,"s":"Test data"},{"t":0.2364,"p":0.1299,"s":"Test data"},{"t":0.2367,"p":0.1350,"s":"Test data"},{"t":0.2370,"p":0.1380,"s":"Test data"},{"t":0.2372,"p":0.1400,"s":"Test data"},{"t":0.2374,"p":0.1437,"s":"Test data"},{"t":0.2377,"p":0.1380,"s":"Test data"},{"t":0.2380,"p":0.1390,"s":"Test data"},{"t":0.2383,"p":0.1350,"s":"Test data"},{"t":0.2386,"p":0.1300,"s":"Test data"},{"t":0.2389,"p":0.1200,"s":"Test data"},{"t":0.2392,"p":0.1088,"s":"Test data"},{"t":0.2395,"p":0.1150,"s":"Test data"},{"t":0.2398,"p":0.1200,"s":"Test data"},{"t":0.2402,"p":0.1230,"s":"Test data"},{"t":0.2405,"p":0.1238,"s":"Test data"},{"t":0.2408,"p":0.1190,"s":"Test data"},{"t":0.2411,"p":0.1150,"s":"Test data"},{"t":0.2414,"p":0.1120,"s":"Test data"},{"t":0.2417,"p":0.1060,"s":"Test data"},{"t":0.2420,"p":0.1000,"s":"Test data"},{"t":0.2423,"p":0.0950,"s":"Test data"},{"t":0.2426,"p":0.0920,"s":"Test data"},{"t":0.2430,"p":0.0895,"s":"Test data"},{"t":0.2433,"p":0.0920,"s":"Test data"},{"t":0.2436,"p":0.0870,"s":"Test data"},{"t":0.2439,"p":0.0890,"s":"Test data"},{"t":0.2442,"p":0.0843,"s":"Test data"},{"t":0.2445,"p":0.0834,"s":"Test data"},{"t":0.2448,"p":0.0900,"s":"Test data"},{"t":0.2451,"p":0.1000,"s":"Test data"},{"t":0.2454,"p":0.1080,"s":"Test data"},{"t":0.2458,"p":0.1070,"s":"Test data"},{"t":0.2462,"p":0.1080,"s":"Test data"},{"t":0.2466,"p":0.1060,"s":"Test data"},{"t":0.2470,"p":0.1075,"s":"Test data"},{"t":0.2474,"p":0.1050,"s":"Test data"},{"t":0.2478,"p":0.1045,"s":"Test data"},{"t":0.2482,"p":0.1032,"s":"Test data"},{"t":0.2485,"p":0.1080,"s":"Test data"},{"t":0.2488,"p":0.1150,"s":"Test data"},{"t":0.2490,"p":0.1300,"s":"Test data"},{"t":0.2492,"p":0.1450,"s":"Test data"},{"t":0.2494,"p":0.1580,"s":"Test data"},{"t":0.2496,"p":0.1680,"s":"Test data"},{"t":0.2498,"p":0.1730,"s":"Test data"},{"t":0.2500,"p":0.1650,"s":"Test data"},
{"t":0.0500,"p":0.0965,"s":"CAE result"},{"t":0.0504,"p":0.1000,"s":"CAE result"},{"t":0.0508,"p":0.1050,"s":"CAE result"},{"t":0.0512,"p":0.1080,"s":"CAE result"},{"t":0.0515,"p":0.1060,"s":"CAE result"},{"t":0.0518,"p":0.1050,"s":"CAE result"},{"t":0.0522,"p":0.1010,"s":"CAE result"},{"t":0.0526,"p":0.0985,"s":"CAE result"},{"t":0.0531,"p":0.0957,"s":"CAE result"},{"t":0.0535,"p":0.0960,"s":"CAE result"},{"t":0.0539,"p":0.0957,"s":"CAE result"},{"t":0.0543,"p":0.0980,"s":"CAE result"},{"t":0.0547,"p":0.1019,"s":"CAE result"},{"t":0.0550,"p":0.1050,"s":"CAE result"},{"t":0.0553,"p":0.1094,"s":"CAE result"},{"t":0.0556,"p":0.1259,"s":"CAE result"},{"t":0.0559,"p":0.1380,"s":"CAE result"},{"t":0.0562,"p":0.1479,"s":"CAE result"},{"t":0.0565,"p":0.1560,"s":"CAE result"},{"t":0.0568,"p":0.1602,"s":"CAE result"},{"t":0.0571,"p":0.1630,"s":"CAE result"},{"t":0.0574,"p":0.1625,"s":"CAE result"},{"t":0.0577,"p":0.1590,"s":"CAE result"},{"t":0.0580,"p":0.1567,"s":"CAE result"},{"t":0.0583,"p":0.1600,"s":"CAE result"},{"t":0.0586,"p":0.1630,"s":"CAE result"},{"t":0.0589,"p":0.1640,"s":"CAE result"},{"t":0.0591,"p":0.1670,"s":"CAE result"},{"t":0.0593,"p":0.1698,"s":"CAE result"},{"t":0.0596,"p":0.1640,"s":"CAE result"},{"t":0.0599,"p":0.1590,"s":"CAE result"},{"t":0.0602,"p":0.1547,"s":"CAE result"},{"t":0.0606,"p":0.1480,"s":"CAE result"},{"t":0.0610,"p":0.1410,"s":"CAE result"},{"t":0.0614,"p":0.1362,"s":"CAE result"},{"t":0.0618,"p":0.1300,"s":"CAE result"},{"t":0.0623,"p":0.1232,"s":"CAE result"},{"t":0.0627,"p":0.1150,"s":"CAE result"},{"t":0.0630,"p":0.1090,"s":"CAE result"},{"t":0.0633,"p":0.1040,"s":"CAE result"},{"t":0.0637,"p":0.0978,"s":"CAE result"},{"t":0.0641,"p":0.0975,"s":"CAE result"},{"t":0.0646,"p":0.0970,"s":"CAE result"},{"t":0.0649,"p":0.1012,"s":"CAE result"},{"t":0.0652,"p":0.1010,"s":"CAE result"},{"t":0.0656,"p":0.1050,"s":"CAE result"},{"t":0.0660,"p":0.1135,"s":"CAE result"},{"t":0.0663,"p":0.1220,"s":"CAE result"},{"t":0.0665,"p":0.1273,"s":"CAE result"},{"t":0.0668,"p":0.1260,"s":"CAE result"},{"t":0.0671,"p":0.1290,"s":"CAE result"},{"t":0.0674,"p":0.1285,"s":"CAE result"},{"t":0.0678,"p":0.1300,"s":"CAE result"},{"t":0.0682,"p":0.1314,"s":"CAE result"},{"t":0.0686,"p":0.1300,"s":"CAE result"},{"t":0.0690,"p":0.1290,"s":"CAE result"},{"t":0.0694,"p":0.1285,"s":"CAE result"},{"t":0.0698,"p":0.1280,"s":"CAE result"},{"t":0.0703,"p":0.1286,"s":"CAE result"},{"t":0.0707,"p":0.1275,"s":"CAE result"},{"t":0.0711,"p":0.1260,"s":"CAE result"},{"t":0.0715,"p":0.1232,"s":"CAE result"},{"t":0.0718,"p":0.1160,"s":"CAE result"},{"t":0.0721,"p":0.1100,"s":"CAE result"},{"t":0.0725,"p":0.1040,"s":"CAE result"},{"t":0.0728,"p":0.1010,"s":"CAE result"},{"t":0.0731,"p":0.0991,"s":"CAE result"},{"t":0.0735,"p":0.0960,"s":"CAE result"},{"t":0.0740,"p":0.0944,"s":"CAE result"},{"t":0.0743,"p":0.0980,"s":"CAE result"},{"t":0.0746,"p":0.1007,"s":"CAE result"},{"t":0.0749,"p":0.1040,"s":"CAE result"},{"t":0.0752,"p":0.1067,"s":"CAE result"},{"t":0.0755,"p":0.1060,"s":"CAE result"},{"t":0.0758,"p":0.1043,"s":"CAE result"},{"t":0.0762,"p":0.1000,"s":"CAE result"},{"t":0.0767,"p":0.0965,"s":"CAE result"},{"t":0.0771,"p":0.0965,"s":"CAE result"},{"t":0.0776,"p":0.0970,"s":"CAE result"},{"t":0.0781,"p":0.0990,"s":"CAE result"},{"t":0.0786,"p":0.1026,"s":"CAE result"},{"t":0.0790,"p":0.1070,"s":"CAE result"},{"t":0.0795,"p":0.1135,"s":"CAE result"},{"t":0.0798,"p":0.1240,"s":"CAE result"},{"t":0.0801,"p":0.1341,"s":"CAE result"},{"t":0.0804,"p":0.1460,"s":"CAE result"},{"t":0.0807,"p":0.1560,"s":"CAE result"},{"t":0.0810,"p":0.1600,"s":"CAE result"},{"t":0.0813,"p":0.1620,"s":"CAE result"},
{"t":0.0816,"p":0.1640,"s":"CAE result"},{"t":0.0819,"p":0.1600,"s":"CAE result"},{"t":0.0822,"p":0.1640,"s":"CAE result"},{"t":0.0825,"p":0.1620,"s":"CAE result"},{"t":0.0828,"p":0.1680,"s":"CAE result"},{"t":0.0831,"p":0.1726,"s":"CAE result"},{"t":0.0834,"p":0.1640,"s":"CAE result"},{"t":0.0837,"p":0.1580,"s":"CAE result"},{"t":0.0841,"p":0.1540,"s":"CAE result"},{"t":0.0844,"p":0.1492,"s":"CAE result"},{"t":0.0848,"p":0.1420,"s":"CAE result"},{"t":0.0852,"p":0.1360,"s":"CAE result"},{"t":0.0856,"p":0.1307,"s":"CAE result"},{"t":0.0860,"p":0.1220,"s":"CAE result"},{"t":0.0864,"p":0.1140,"s":"CAE result"},{"t":0.0869,"p":0.1067,"s":"CAE result"},{"t":0.0873,"p":0.1000,"s":"CAE result"},{"t":0.0877,"p":0.0960,"s":"CAE result"},{"t":0.0880,"p":0.0950,"s":"CAE result"},{"t":0.0884,"p":0.0980,"s":"CAE result"},{"t":0.0887,"p":0.1000,"s":"CAE result"},{"t":0.0890,"p":0.1026,"s":"CAE result"},{"t":0.0893,"p":0.1060,"s":"CAE result"},{"t":0.0896,"p":0.1090,"s":"CAE result"},{"t":0.0900,"p":0.1160,"s":"CAE result"},{"t":0.0903,"p":0.1210,"s":"CAE result"},{"t":0.0905,"p":0.1238,"s":"CAE result"},{"t":0.0909,"p":0.1260,"s":"CAE result"},{"t":0.0914,"p":0.1285,"s":"CAE result"},{"t":0.0918,"p":0.1280,"s":"CAE result"},{"t":0.0924,"p":0.1300,"s":"CAE result"},{"t":0.0929,"p":0.1290,"s":"CAE result"},{"t":0.0934,"p":0.1300,"s":"CAE result"},{"t":0.0939,"p":0.1307,"s":"CAE result"},{"t":0.0944,"p":0.1300,"s":"CAE result"},{"t":0.0948,"p":0.1320,"s":"CAE result"},{"t":0.0952,"p":0.1270,"s":"CAE result"},{"t":0.0955,"p":0.1230,"s":"CAE result"},{"t":0.0958,"p":0.1204,"s":"CAE result"},{"t":0.0962,"p":0.1140,"s":"CAE result"},{"t":0.0966,"p":0.1090,"s":"CAE result"},{"t":0.0970,"p":0.1067,"s":"CAE result"},{"t":0.0974,"p":0.1030,"s":"CAE result"},{"t":0.0979,"p":0.0998,"s":"CAE result"},{"t":0.0983,"p":0.1040,"s":"CAE result"},{"t":0.0987,"p":0.1090,"s":"CAE result"},{"t":0.0991,"p":0.1122,"s":"CAE result"},{"t":0.0994,"p":0.1110,"s":"CAE result"},{"t":0.0997,"p":0.1100,"s":"CAE result"},{"t":0.1001,"p":0.1050,"s":"CAE result"},{"t":0.1005,"p":0.1010,"s":"CAE result"},{"t":0.1010,"p":0.0985,"s":"CAE result"},{"t":0.1014,"p":0.0995,"s":"CAE result"},{"t":0.1018,"p":0.1018,"s":"CAE result"},{"t":0.1022,"p":0.1040,"s":"CAE result"},{"t":0.1025,"p":0.1067,"s":"CAE result"},{"t":0.1029,"p":0.1110,"s":"CAE result"},{"t":0.1032,"p":0.1150,"s":"CAE result"},{"t":0.1034,"p":0.1170,"s":"CAE result"},{"t":0.1037,"p":0.1300,"s":"CAE result"},{"t":0.1040,"p":0.1410,"s":"CAE result"},{"t":0.1043,"p":0.1520,"s":"CAE result"},{"t":0.1047,"p":0.1600,"s":"CAE result"},{"t":0.1050,"p":0.1630,"s":"CAE result"},
{"t":0.1053,"p":0.1620,"s":"CAE result"},{"t":0.1056,"p":0.1600,"s":"CAE result"},{"t":0.1059,"p":0.1640,"s":"CAE result"},{"t":0.1062,"p":0.1610,"s":"CAE result"},{"t":0.1065,"p":0.1650,"s":"CAE result"},{"t":0.1068,"p":0.1640,"s":"CAE result"},{"t":0.1071,"p":0.1684,"s":"CAE result"},{"t":0.1074,"p":0.1620,"s":"CAE result"},{"t":0.1077,"p":0.1560,"s":"CAE result"},{"t":0.1080,"p":0.1520,"s":"CAE result"},{"t":0.1083,"p":0.1470,"s":"CAE result"},{"t":0.1086,"p":0.1430,"s":"CAE result"},{"t":0.1089,"p":0.1390,"s":"CAE result"},{"t":0.1093,"p":0.1300,"s":"CAE result"},{"t":0.1097,"p":0.1220,"s":"CAE result"},{"t":0.1101,"p":0.1170,"s":"CAE result"},{"t":0.1105,"p":0.1140,"s":"CAE result"},{"t":0.1108,"p":0.1120,"s":"CAE result"},{"t":0.1112,"p":0.1050,"s":"CAE result"},{"t":0.1117,"p":0.0991,"s":"CAE result"},{"t":0.1120,"p":0.0985,"s":"CAE result"},{"t":0.1123,"p":0.0978,"s":"CAE result"},{"t":0.1127,"p":0.1000,"s":"CAE result"},{"t":0.1131,"p":0.1040,"s":"CAE result"},{"t":0.1135,"p":0.1088,"s":"CAE result"},{"t":0.1138,"p":0.1160,"s":"CAE result"},{"t":0.1141,"p":0.1215,"s":"CAE result"},{"t":0.1144,"p":0.1250,"s":"CAE result"},{"t":0.1147,"p":0.1280,"s":"CAE result"},{"t":0.1151,"p":0.1270,"s":"CAE result"},{"t":0.1155,"p":0.1300,"s":"CAE result"},{"t":0.1159,"p":0.1310,"s":"CAE result"},{"t":0.1163,"p":0.1300,"s":"CAE result"},{"t":0.1166,"p":0.1328,"s":"CAE result"},{"t":0.1170,"p":0.1310,"s":"CAE result"},{"t":0.1175,"p":0.1300,"s":"CAE result"},{"t":0.1180,"p":0.1300,"s":"CAE result"},{"t":0.1184,"p":0.1290,"s":"CAE result"},{"t":0.1189,"p":0.1270,"s":"CAE result"},{"t":0.1194,"p":0.1245,"s":"CAE result"},{"t":0.1198,"p":0.1200,"s":"CAE result"},{"t":0.1202,"p":0.1160,"s":"CAE result"},{"t":0.1206,"p":0.1125,"s":"CAE result"},{"t":0.1210,"p":0.1060,"s":"CAE result"},{"t":0.1214,"p":0.1000,"s":"CAE result"},{"t":0.1218,"p":0.0950,"s":"CAE result"},{"t":0.1222,"p":0.1000,"s":"CAE result"},{"t":0.1226,"p":0.1060,"s":"CAE result"},{"t":0.1230,"p":0.1094,"s":"CAE result"},{"t":0.1234,"p":0.1070,"s":"CAE result"},{"t":0.1238,"p":0.1040,"s":"CAE result"},{"t":0.1242,"p":0.1010,"s":"CAE result"},{"t":0.1246,"p":0.0990,"s":"CAE result"},{"t":0.1251,"p":0.0970,"s":"CAE result"},{"t":0.1255,"p":0.0957,"s":"CAE result"},{"t":0.1259,"p":0.0980,"s":"CAE result"},{"t":0.1263,"p":0.1000,"s":"CAE result"},{"t":0.1267,"p":0.1050,"s":"CAE result"},{"t":0.1270,"p":0.1100,"s":"CAE result"},{"t":0.1273,"p":0.1156,"s":"CAE result"},{"t":0.1276,"p":0.1250,"s":"CAE result"},{"t":0.1280,"p":0.1360,"s":"CAE result"},{"t":0.1283,"p":0.1430,"s":"CAE result"},{"t":0.1287,"p":0.1530,"s":"CAE result"},{"t":0.1290,"p":0.1590,"s":"CAE result"},{"t":0.1292,"p":0.1630,"s":"CAE result"},{"t":0.1295,"p":0.1640,"s":"CAE result"},
{"t":0.1298,"p":0.1600,"s":"CAE result"},{"t":0.1301,"p":0.1580,"s":"CAE result"},{"t":0.1304,"p":0.1620,"s":"CAE result"},{"t":0.1307,"p":0.1640,"s":"CAE result"},{"t":0.1309,"p":0.1660,"s":"CAE result"},{"t":0.1311,"p":0.1688,"s":"CAE result"},{"t":0.1314,"p":0.1640,"s":"CAE result"},{"t":0.1317,"p":0.1610,"s":"CAE result"},{"t":0.1320,"p":0.1590,"s":"CAE result"},{"t":0.1323,"p":0.1570,"s":"CAE result"},{"t":0.1326,"p":0.1547,"s":"CAE result"},{"t":0.1330,"p":0.1450,"s":"CAE result"},{"t":0.1335,"p":0.1355,"s":"CAE result"},{"t":0.1339,"p":0.1270,"s":"CAE result"},{"t":0.1344,"p":0.1186,"s":"CAE result"},{"t":0.1348,"p":0.1100,"s":"CAE result"},{"t":0.1353,"p":0.1005,"s":"CAE result"},{"t":0.1357,"p":0.0970,"s":"CAE result"},{"t":0.1362,"p":0.0930,"s":"CAE result"},{"t":0.1366,"p":0.0960,"s":"CAE result"},{"t":0.1371,"p":0.1000,"s":"CAE result"},{"t":0.1374,"p":0.1030,"s":"CAE result"},{"t":0.1377,"p":0.1067,"s":"CAE result"},{"t":0.1381,"p":0.1140,"s":"CAE result"},{"t":0.1384,"p":0.1204,"s":"CAE result"},{"t":0.1388,"p":0.1230,"s":"CAE result"},{"t":0.1393,"p":0.1253,"s":"CAE result"},{"t":0.1397,"p":0.1270,"s":"CAE result"},{"t":0.1402,"p":0.1280,"s":"CAE result"},{"t":0.1408,"p":0.1290,"s":"CAE result"},{"t":0.1414,"p":0.1300,"s":"CAE result"},{"t":0.1418,"p":0.1300,"s":"CAE result"},{"t":0.1423,"p":0.1307,"s":"CAE result"},{"t":0.1428,"p":0.1290,"s":"CAE result"},{"t":0.1433,"p":0.1258,"s":"CAE result"},{"t":0.1437,"p":0.1200,"s":"CAE result"},{"t":0.1442,"p":0.1142,"s":"CAE result"},{"t":0.1446,"p":0.1100,"s":"CAE result"},{"t":0.1450,"p":0.1070,"s":"CAE result"},{"t":0.1454,"p":0.1046,"s":"CAE result"},{"t":0.1458,"p":0.1020,"s":"CAE result"},{"t":0.1463,"p":0.0991,"s":"CAE result"},{"t":0.1467,"p":0.1030,"s":"CAE result"},{"t":0.1472,"p":0.1067,"s":"CAE result"},{"t":0.1476,"p":0.1050,"s":"CAE result"},{"t":0.1481,"p":0.1020,"s":"CAE result"},{"t":0.1486,"p":0.0990,"s":"CAE result"},{"t":0.1491,"p":0.0964,"s":"CAE result"},{"t":0.1495,"p":0.0980,"s":"CAE result"},{"t":0.1499,"p":0.0998,"s":"CAE result"},{"t":0.1503,"p":0.1040,"s":"CAE result"},{"t":0.1506,"p":0.1080,"s":"CAE result"},{"t":0.1509,"p":0.1156,"s":"CAE result"},{"t":0.1513,"p":0.1300,"s":"CAE result"},{"t":0.1517,"p":0.1430,"s":"CAE result"},{"t":0.1521,"p":0.1550,"s":"CAE result"},{"t":0.1525,"p":0.1636,"s":"CAE result"},
{"t":0.1528,"p":0.1620,"s":"CAE result"},{"t":0.1531,"p":0.1580,"s":"CAE result"},{"t":0.1534,"p":0.1610,"s":"CAE result"},{"t":0.1537,"p":0.1640,"s":"CAE result"},{"t":0.1540,"p":0.1600,"s":"CAE result"},{"t":0.1543,"p":0.1620,"s":"CAE result"},{"t":0.1546,"p":0.1650,"s":"CAE result"},{"t":0.1549,"p":0.1660,"s":"CAE result"},{"t":0.1552,"p":0.1690,"s":"CAE result"},{"t":0.1555,"p":0.1640,"s":"CAE result"},{"t":0.1558,"p":0.1590,"s":"CAE result"},{"t":0.1562,"p":0.1547,"s":"CAE result"},{"t":0.1566,"p":0.1470,"s":"CAE result"},{"t":0.1571,"p":0.1380,"s":"CAE result"},{"t":0.1574,"p":0.1340,"s":"CAE result"},{"t":0.1577,"p":0.1330,"s":"CAE result"},{"t":0.1580,"p":0.1260,"s":"CAE result"},{"t":0.1583,"p":0.1191,"s":"CAE result"},{"t":0.1587,"p":0.1100,"s":"CAE result"},{"t":0.1592,"p":0.1004,"s":"CAE result"},{"t":0.1595,"p":0.0980,"s":"CAE result"},{"t":0.1598,"p":0.0965,"s":"CAE result"},{"t":0.1602,"p":0.1000,"s":"CAE result"},{"t":0.1607,"p":0.1050,"s":"CAE result"},{"t":0.1612,"p":0.1110,"s":"CAE result"},{"t":0.1617,"p":0.1170,"s":"CAE result"},{"t":0.1621,"p":0.1210,"s":"CAE result"},{"t":0.1626,"p":0.1239,"s":"CAE result"},{"t":0.1632,"p":0.1286,"s":"CAE result"},{"t":0.1636,"p":0.1290,"s":"CAE result"},{"t":0.1641,"p":0.1310,"s":"CAE result"},{"t":0.1647,"p":0.1300,"s":"CAE result"},{"t":0.1654,"p":0.1307,"s":"CAE result"},{"t":0.1660,"p":0.1320,"s":"CAE result"},{"t":0.1666,"p":0.1334,"s":"CAE result"},{"t":0.1671,"p":0.1280,"s":"CAE result"},{"t":0.1676,"p":0.1200,"s":"CAE result"},{"t":0.1681,"p":0.1122,"s":"CAE result"},{"t":0.1685,"p":0.1060,"s":"CAE result"},{"t":0.1690,"p":0.1000,"s":"CAE result"},{"t":0.1694,"p":0.0990,"s":"CAE result"},{"t":0.1699,"p":0.0978,"s":"CAE result"},{"t":0.1704,"p":0.1040,"s":"CAE result"},{"t":0.1709,"p":0.1094,"s":"CAE result"},{"t":0.1713,"p":0.1060,"s":"CAE result"},{"t":0.1718,"p":0.1021,"s":"CAE result"},{"t":0.1722,"p":0.0990,"s":"CAE result"},{"t":0.1726,"p":0.0975,"s":"CAE result"},{"t":0.1730,"p":0.0964,"s":"CAE result"},{"t":0.1736,"p":0.0990,"s":"CAE result"},{"t":0.1742,"p":0.1022,"s":"CAE result"},{"t":0.1747,"p":0.1080,"s":"CAE result"},{"t":0.1752,"p":0.1156,"s":"CAE result"},{"t":0.1756,"p":0.1300,"s":"CAE result"},{"t":0.1759,"p":0.1430,"s":"CAE result"},{"t":0.1763,"p":0.1540,"s":"CAE result"},{"t":0.1767,"p":0.1630,"s":"CAE result"},
{"t":0.1770,"p":0.1620,"s":"CAE result"},{"t":0.1773,"p":0.1590,"s":"CAE result"},{"t":0.1776,"p":0.1620,"s":"CAE result"},{"t":0.1779,"p":0.1640,"s":"CAE result"},{"t":0.1782,"p":0.1600,"s":"CAE result"},{"t":0.1785,"p":0.1630,"s":"CAE result"},{"t":0.1788,"p":0.1650,"s":"CAE result"},{"t":0.1790,"p":0.1660,"s":"CAE result"},{"t":0.1792,"p":0.1684,"s":"CAE result"},{"t":0.1796,"p":0.1620,"s":"CAE result"},{"t":0.1801,"p":0.1513,"s":"CAE result"},{"t":0.1807,"p":0.1440,"s":"CAE result"},{"t":0.1813,"p":0.1360,"s":"CAE result"},{"t":0.1817,"p":0.1280,"s":"CAE result"},{"t":0.1822,"p":0.1190,"s":"CAE result"},{"t":0.1827,"p":0.1100,"s":"CAE result"},{"t":0.1832,"p":0.1019,"s":"CAE result"},{"t":0.1836,"p":0.0990,"s":"CAE result"},{"t":0.1841,"p":0.0978,"s":"CAE result"},{"t":0.1845,"p":0.0990,"s":"CAE result"},{"t":0.1850,"p":0.1000,"s":"CAE result"},{"t":0.1855,"p":0.1080,"s":"CAE result"},{"t":0.1859,"p":0.1150,"s":"CAE result"},{"t":0.1863,"p":0.1210,"s":"CAE result"},{"t":0.1868,"p":0.1252,"s":"CAE result"},{"t":0.1874,"p":0.1280,"s":"CAE result"},{"t":0.1880,"p":0.1285,"s":"CAE result"},{"t":0.1886,"p":0.1293,"s":"CAE result"},{"t":0.1894,"p":0.1290,"s":"CAE result"},{"t":0.1902,"p":0.1300,"s":"CAE result"},{"t":0.1906,"p":0.1290,"s":"CAE result"},{"t":0.1911,"p":0.1258,"s":"CAE result"},{"t":0.1915,"p":0.1200,"s":"CAE result"},{"t":0.1920,"p":0.1142,"s":"CAE result"},{"t":0.1924,"p":0.1070,"s":"CAE result"},{"t":0.1929,"p":0.1000,"s":"CAE result"},{"t":0.1934,"p":0.0985,"s":"CAE result"},{"t":0.1939,"p":0.0970,"s":"CAE result"},{"t":0.1943,"p":0.1030,"s":"CAE result"},{"t":0.1948,"p":0.1067,"s":"CAE result"},{"t":0.1952,"p":0.1040,"s":"CAE result"},{"t":0.1957,"p":0.1012,"s":"CAE result"},{"t":0.1963,"p":0.0980,"s":"CAE result"},{"t":0.1969,"p":0.0950,"s":"CAE result"},{"t":0.1974,"p":0.0970,"s":"CAE result"},{"t":0.1978,"p":0.0985,"s":"CAE result"},{"t":0.1983,"p":0.1030,"s":"CAE result"},{"t":0.1988,"p":0.1088,"s":"CAE result"},{"t":0.1993,"p":0.1200,"s":"CAE result"},{"t":0.1997,"p":0.1293,"s":"CAE result"},{"t":0.2000,"p":0.1440,"s":"CAE result"},{"t":0.2003,"p":0.1560,"s":"CAE result"},{"t":0.2006,"p":0.1610,"s":"CAE result"},{"t":0.2009,"p":0.1643,"s":"CAE result"},
{"t":0.2012,"p":0.1600,"s":"CAE result"},{"t":0.2015,"p":0.1580,"s":"CAE result"},{"t":0.2018,"p":0.1620,"s":"CAE result"},{"t":0.2021,"p":0.1590,"s":"CAE result"},{"t":0.2024,"p":0.1610,"s":"CAE result"},{"t":0.2027,"p":0.1630,"s":"CAE result"},{"t":0.2029,"p":0.1640,"s":"CAE result"},{"t":0.2031,"p":0.1657,"s":"CAE result"},{"t":0.2035,"p":0.1620,"s":"CAE result"},{"t":0.2039,"p":0.1580,"s":"CAE result"},{"t":0.2043,"p":0.1547,"s":"CAE result"},{"t":0.2047,"p":0.1460,"s":"CAE result"},{"t":0.2052,"p":0.1380,"s":"CAE result"},{"t":0.2056,"p":0.1300,"s":"CAE result"},{"t":0.2061,"p":0.1204,"s":"CAE result"},{"t":0.2066,"p":0.1130,"s":"CAE result"},{"t":0.2071,"p":0.1053,"s":"CAE result"},{"t":0.2075,"p":0.1010,"s":"CAE result"},{"t":0.2080,"p":0.0970,"s":"CAE result"},{"t":0.2086,"p":0.0965,"s":"CAE result"},{"t":0.2092,"p":0.1022,"s":"CAE result"},{"t":0.2098,"p":0.1142,"s":"CAE result"},{"t":0.2104,"p":0.1258,"s":"CAE result"},{"t":0.2108,"p":0.1270,"s":"CAE result"},{"t":0.2113,"p":0.1280,"s":"CAE result"},{"t":0.2120,"p":0.1290,"s":"CAE result"},{"t":0.2126,"p":0.1300,"s":"CAE result"},{"t":0.2132,"p":0.1290,"s":"CAE result"},{"t":0.2138,"p":0.1278,"s":"CAE result"},{"t":0.2142,"p":0.1260,"s":"CAE result"},{"t":0.2147,"p":0.1238,"s":"CAE result"},{"t":0.2152,"p":0.1180,"s":"CAE result"},{"t":0.2156,"p":0.1122,"s":"CAE result"},{"t":0.2161,"p":0.1080,"s":"CAE result"},{"t":0.2166,"p":0.1046,"s":"CAE result"},{"t":0.2172,"p":0.1030,"s":"CAE result"},{"t":0.2178,"p":0.1012,"s":"CAE result"},{"t":0.2184,"p":0.1060,"s":"CAE result"},{"t":0.2190,"p":0.1100,"s":"CAE result"},{"t":0.2196,"p":0.1060,"s":"CAE result"},{"t":0.2202,"p":0.1022,"s":"CAE result"},{"t":0.2208,"p":0.0990,"s":"CAE result"},{"t":0.2215,"p":0.0971,"s":"CAE result"},{"t":0.2220,"p":0.1000,"s":"CAE result"},{"t":0.2224,"p":0.1022,"s":"CAE result"},{"t":0.2229,"p":0.1080,"s":"CAE result"},{"t":0.2233,"p":0.1142,"s":"CAE result"},{"t":0.2237,"p":0.1290,"s":"CAE result"},{"t":0.2241,"p":0.1430,"s":"CAE result"},{"t":0.2244,"p":0.1520,"s":"CAE result"},{"t":0.2248,"p":0.1595,"s":"CAE result"},
{"t":0.2252,"p":0.1620,"s":"CAE result"},{"t":0.2255,"p":0.1590,"s":"CAE result"},{"t":0.2258,"p":0.1630,"s":"CAE result"},{"t":0.2261,"p":0.1610,"s":"CAE result"},{"t":0.2264,"p":0.1640,"s":"CAE result"},{"t":0.2267,"p":0.1620,"s":"CAE result"},{"t":0.2270,"p":0.1660,"s":"CAE result"},{"t":0.2272,"p":0.1688,"s":"CAE result"},{"t":0.2275,"p":0.1640,"s":"CAE result"},{"t":0.2279,"p":0.1600,"s":"CAE result"},{"t":0.2283,"p":0.1547,"s":"CAE result"},{"t":0.2287,"p":0.1450,"s":"CAE result"},{"t":0.2292,"p":0.1355,"s":"CAE result"},{"t":0.2296,"p":0.1270,"s":"CAE result"},{"t":0.2301,"p":0.1190,"s":"CAE result"},{"t":0.2305,"p":0.1090,"s":"CAE result"},{"t":0.2310,"p":0.1000,"s":"CAE result"},{"t":0.2315,"p":0.0980,"s":"CAE result"},{"t":0.2319,"p":0.0970,"s":"CAE result"},{"t":0.2324,"p":0.0985,"s":"CAE result"},{"t":0.2328,"p":0.1000,"s":"CAE result"},{"t":0.2333,"p":0.1080,"s":"CAE result"},{"t":0.2337,"p":0.1156,"s":"CAE result"},{"t":0.2342,"p":0.1210,"s":"CAE result"},{"t":0.2347,"p":0.1252,"s":"CAE result"},{"t":0.2352,"p":0.1270,"s":"CAE result"},{"t":0.2356,"p":0.1280,"s":"CAE result"},{"t":0.2362,"p":0.1290,"s":"CAE result"},{"t":0.2368,"p":0.1300,"s":"CAE result"},{"t":0.2375,"p":0.1310,"s":"CAE result"},{"t":0.2383,"p":0.1300,"s":"CAE result"},{"t":0.2388,"p":0.1290,"s":"CAE result"},{"t":0.2392,"p":0.1258,"s":"CAE result"},{"t":0.2396,"p":0.1210,"s":"CAE result"},{"t":0.2401,"p":0.1156,"s":"CAE result"},{"t":0.2405,"p":0.1100,"s":"CAE result"},{"t":0.2410,"p":0.1046,"s":"CAE result"},{"t":0.2415,"p":0.1010,"s":"CAE result"},{"t":0.2420,"p":0.0985,"s":"CAE result"},{"t":0.2425,"p":0.1040,"s":"CAE result"},{"t":0.2430,"p":0.1100,"s":"CAE result"},{"t":0.2436,"p":0.1060,"s":"CAE result"},{"t":0.2442,"p":0.1012,"s":"CAE result"},{"t":0.2447,"p":0.0990,"s":"CAE result"},{"t":0.2451,"p":0.0971,"s":"CAE result"},{"t":0.2456,"p":0.0985,"s":"CAE result"},{"t":0.2460,"p":0.1000,"s":"CAE result"},{"t":0.2465,"p":0.1040,"s":"CAE result"},{"t":0.2469,"p":0.1088,"s":"CAE result"},{"t":0.2474,"p":0.1150,"s":"CAE result"},{"t":0.2478,"p":0.1225,"s":"CAE result"},{"t":0.2481,"p":0.1330,"s":"CAE result"},{"t":0.2484,"p":0.1430,"s":"CAE result"},{"t":0.2488,"p":0.1540,"s":"CAE result"},{"t":0.2491,"p":0.1602,"s":"CAE result"},{"t":0.2494,"p":0.1615,"s":"CAE result"},{"t":0.2497,"p":0.1580,"s":"CAE result"},{"t":0.2500,"p":0.1600,"s":"CAE result"}
]},
"mark": {"type": "line", "strokeWidth": 3, "clip": true},
"encoding": {
"x": {"field": "t", "type": "quantitative", "title": "Time (s)",
 "scale": {"domain": [0.05, 0.25], "nice": false, "zero": false},
 "axis": {"values": [0.05,0.06,0.07,0.08,0.09,0.10,0.11,0.12,0.13,0.14,0.15,0.16,0.17,0.18,0.19,0.20,0.21,0.22,0.23,0.24,0.25],
  "labelExpr": "round(datum.value*100) % 2 == 1 ? format(datum.value, '.2f') : ''",
  "domain": false, "ticks": false, "labelPadding": 3, "labelFont": "Liberation Sans", "labelFontSize": 16, "labelFontWeight": "bold", "labelColor": "#000",
  "labelOverlap": false, "labelFlush": false,
  "titleFont": "Liberation Sans", "titleFontSize": 23, "titleFontWeight": "bold", "titleColor": "#000", "titlePadding": 1,
  "grid": true, "gridWidth": 1.5,
  "gridColor": {"condition": {"test": "round(datum.value*100) % 2 == 0", "value": "#d0d0d0"}, "value": "#cfcfcf"},
  "gridDash": {"condition": {"test": "round(datum.value*100) % 2 == 0", "value": [2, 3]}, "value": []}}},
"y": {"field": "p", "type": "quantitative", "title": "Pressure (N/mm^2)",
 "scale": {"domain": [0.08, 0.18], "nice": false, "zero": false},
 "axis": {"values": [0.08,0.085,0.09,0.095,0.1,0.105,0.11,0.115,0.12,0.125,0.13,0.135,0.14,0.145,0.15,0.155,0.16,0.165,0.17,0.175,0.18],
  "labelExpr": "round(datum.value*1000) % 10 == 0 ? format(datum.value, '.2~f') : ''",
  "domain": false, "ticks": false, "labelPadding": 5, "labelFont": "Liberation Sans", "labelFontSize": 16, "labelFontWeight": "bold", "labelColor": "#000",
  "labelOverlap": false, "labelFlush": false,
  "titleFont": "Liberation Sans", "titleFontSize": 22, "titleFontWeight": "bold", "titleColor": "#000", "titlePadding": 2,
  "grid": true, "gridWidth": 1.5,
  "gridColor": {"condition": {"test": "round(datum.value*1000) % 10 == 5", "value": "#d0d0d0"}, "value": "#cfcfcf"},
  "gridDash": {"condition": {"test": "round(datum.value*1000) % 10 == 5", "value": [2, 3]}, "value": []}}},
"color": {"field": "s", "type": "nominal", "sort": ["Test data", "CAE result"],
 "scale": {"domain": ["Test data", "CAE result"], "range": ["#2a5bd0", "#c9281e"]},
 "legend": {"orient": "none", "legendX": 735, "legendY": 1, "title": null, "direction": "vertical",
  "labelFont": "Liberation Sans", "labelFontSize": 24, "labelFontWeight": "bold",
  "labelColor": {"expr": "datum.label == 'Test data' ? '#2a5bd0' : '#c9281e'"},
  "symbolType": "stroke", "symbolSize": 1225, "symbolStrokeWidth": 3, "labelOffset": 3, "rowPadding": -8,
  "fillColor": "white", "padding": 4}},
"strokeDash": {"field": "s", "type": "nominal", "sort": ["Test data", "CAE result"],
 "scale": {"domain": ["Test data", "CAE result"], "range": [[1, 0], [11, 6]]},
 "legend": null}
}
}
